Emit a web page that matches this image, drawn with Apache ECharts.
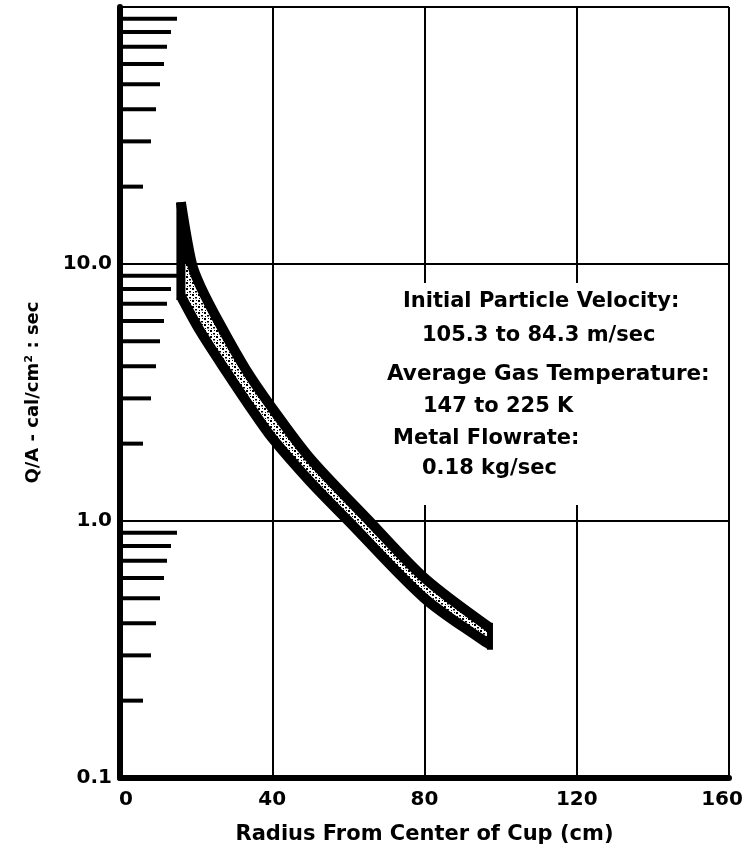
<!DOCTYPE html>
<html>
<head>
<meta charset="utf-8">
<script src="https://cdn.jsdelivr.net/npm/echarts@6/dist/echarts.min.js"></script>
<style>
html,body{margin:0;padding:0;background:#fff;}
#chart{width:745px;height:854px;}
</style>
</head>
<body>
<div id="chart"></div>
<script>
// band edges (radius cm, Q/A)
var upperR = [16.0, 18.9, 21.3, 26.5, 33, 40, 50, 65.5, 80, 97.2];
var upperQ = [17.4, 10.0, 8.1, 5.75, 3.9, 2.75, 1.75, 1.0, 0.6, 0.384];
var lowerR = [16.0, 21, 28, 34, 40, 50, 60, 80, 97.2];
var lowerQ = [7.5, 5.5, 3.8, 2.8, 2.1, 1.42, 1.0, 0.5, 0.33];
// inside minor ticks on the log axis
var minorQ = [0.2,0.3,0.4,0.5,0.6,0.7,0.8,0.9, 2,3,4,5,6,7,8,9, 20,30,40,50,60,70,80,90];
var infoLines = [
    'Initial Particle Velocity:',
    '105.3 to 84.3 m/sec',
    'Average Gas Temperature:',
    '147 to 225 K',
    'Metal Flowrate:',
    '0.18 kg/sec'
];

var FONT = 'DejaVu Sans';

// stipple fill
var dots = document.createElement('canvas');
dots.width = 6; dots.height = 6;
var dc = dots.getContext('2d');
dc.fillStyle = '#fff'; dc.fillRect(0,0,6,6);
dc.fillStyle = '#000';
dc.fillRect(0,0,2,2);
dc.fillRect(3,3,2,1.5);
dc.fillRect(4,0,1,1);
dc.fillRect(1,4,1,1);

var tickLen = [0,0,23,31,36,40,44,47,51,57];

var myChart = echarts.init(document.getElementById('chart'));
myChart.setOption({
    backgroundColor:'#fff',
    animation:false,
    grid:{left:120,right:16,top:7,bottom:76,outerBoundsMode:'none'},
    xAxis:{
        type:'value',min:0,max:160,interval:40,
        axisLine:{onZero:false,lineStyle:{color:'#000',width:6}},
        axisTick:{show:false},
        axisLabel:{
            color:'#000',fontFamily:FONT,fontWeight:'bold',fontSize:20,margin:12,
            formatter:function(v){ return v===160 ? '{r|160}' : (v===0 ? '{l|0}' : String(v)); },
            rich:{
                r:{color:'#000',fontFamily:FONT,fontWeight:'bold',fontSize:20,padding:[0,14,0,0]},
                l:{color:'#000',fontFamily:FONT,fontWeight:'bold',fontSize:20,padding:[0,0,0,12]}
            }
        },
        splitLine:{lineStyle:{color:'#000',width:2}},
        name:'Radius From Center of Cup (cm)',
        nameLocation:'middle',nameGap:46,
        nameTextStyle:{color:'#000',fontFamily:FONT,fontWeight:'bold',fontSize:21}
    },
    yAxis:{
        type:'log',logBase:10,min:0.1,max:100,
        axisLine:{onZero:false,lineStyle:{color:'#000',width:6}},
        axisTick:{show:false},
        axisLabel:{
            color:'#000',fontFamily:FONT,fontWeight:'bold',fontSize:20,margin:8,
            formatter:function(v){
                if(v>=100) return '';
                if(v<1) return '0.1';
                return v.toFixed(1);
            }
        },
        splitLine:{lineStyle:{color:'#000',width:2}},
        name:'Q/A - cal/cm² : sec',
        nameLocation:'middle',nameGap:78,
        nameTextStyle:{color:'#000',fontFamily:FONT,fontWeight:'bold',fontSize:18}
    },
    series:[{
        type:'custom',
        data:minorQ,
        z:3,
        renderItem:function(params,api){
            var v = api.value(0);
            var p = api.coord([0,v]);
            var m = Math.round(v/Math.pow(10,Math.floor(Math.log10(v)+1e-9)));
            return {
                type:'line',
                shape:{x1:p[0],y1:p[1],x2:p[0]+tickLen[m],y2:p[1]},
                style:{stroke:'#000',lineWidth:4}
            };
        }
    },{
        type:'custom',
        data:[0],
        z:4,
        renderItem:function(params,api){
            var up = upperR.map(function(r,i){return api.coord([r,upperQ[i]]);});
            var lo = lowerR.map(function(r,i){return api.coord([r,lowerQ[i]]);});
            var poly = up.concat(lo.slice().reverse());
            var n = up.length-1, k = lo.length-1;
            var ink = {stroke:'#000',lineWidth:10,fill:null};
            return {
                type:'group',
                children:[{
                    type:'polygon',
                    shape:{points:poly},
                    style:{fill:{image:dots,repeat:'repeat'}}
                },{
                    // solid tip above the stipple
                    type:'polygon',
                    shape:{points:[up[0],up[1],api.coord([upperR[0],upperQ[1]])]},
                    style:{fill:'#000'}
                },{
                    type:'polyline',
                    shape:{points:up,smooth:0.3},
                    style:ink
                },{
                    type:'polyline',
                    shape:{points:lo,smooth:0.3},
                    style:ink
                },{
                    type:'line',
                    shape:{x1:up[0][0],y1:up[0][1],x2:lo[0][0],y2:lo[0][1]+4},
                    style:{stroke:'#000',lineWidth:9}
                },{
                    type:'line',
                    shape:{x1:up[n][0],y1:up[n][1]-5,x2:lo[k][0],y2:lo[k][1]+5},
                    style:{stroke:'#000',lineWidth:6}
                }]
            };
        }
    }],
    graphic:{elements:[
        {type:'rect',z:50,shape:{x:385,y:283,width:341,height:222},style:{fill:'#fff'}},
        {type:'text',z:51,left:403,top:291,style:{text:infoLines[0],font:'bold 21px "DejaVu Sans"',fill:'#000'}},
        {type:'text',z:51,left:422,top:325,style:{text:infoLines[1],font:'bold 21px "DejaVu Sans"',fill:'#000'}},
        {type:'text',z:51,left:387,top:363,style:{text:infoLines[2],font:'bold 21.5px "DejaVu Sans"',fill:'#000'}},
        {type:'text',z:51,left:423,top:396,style:{text:infoLines[3],font:'bold 21px "DejaVu Sans"',fill:'#000'}},
        {type:'text',z:51,left:393,top:428,style:{text:infoLines[4],font:'bold 21px "DejaVu Sans"',fill:'#000'}},
        {type:'text',z:51,left:422,top:458,style:{text:infoLines[5],font:'bold 21px "DejaVu Sans"',fill:'#000'}}
    ]}
});
</script>
</body>
</html>
